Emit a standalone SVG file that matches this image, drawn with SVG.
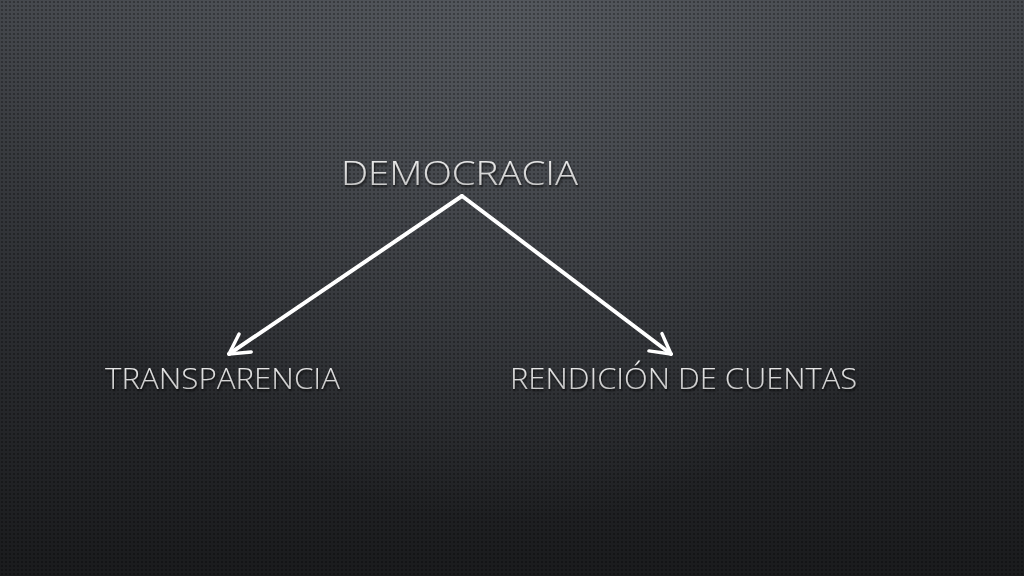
<svg xmlns="http://www.w3.org/2000/svg" width="1024" height="576" viewBox="0 0 1024 576">
<defs>
<linearGradient id="bgl" x1="0" y1="0" x2="0" y2="1">
<stop offset="0" stop-color="#45484d"/>
<stop offset="0.5" stop-color="#2d2f33"/>
<stop offset="1" stop-color="#1a1b1d"/>
</linearGradient>
<radialGradient id="bg" cx="512" cy="0" r="520" gradientUnits="userSpaceOnUse">
<stop offset="0" stop-color="#5a5e64" stop-opacity="0.7"/>
<stop offset="1" stop-color="#5a5e64" stop-opacity="0"/>
</radialGradient>
<pattern id="dots" width="4" height="4" patternUnits="userSpaceOnUse">
<circle cx="2" cy="2" r="1.1" fill="#000" fill-opacity="0.35"/>
</pattern>
<linearGradient id="txt" x1="0" y1="0" x2="0" y2="1">
<stop offset="0" stop-color="#f6f6f6"/>
<stop offset="1" stop-color="#bcbcbc"/>
</linearGradient>
<marker id="arr" viewBox="0 0 12 12" refX="10" refY="6" markerWidth="6.5" markerHeight="6.5" orient="auto" markerUnits="strokeWidth">
<path d="M1,1 L10,6 L1,11" fill="none" stroke="#ffffff" stroke-width="1.6" stroke-linecap="round" stroke-linejoin="round"/>
</marker>
<filter id="sh" x="-5%" y="-20%" width="110%" height="150%">
<feDropShadow dx="1" dy="2" stdDeviation="1.2" flood-color="#000" flood-opacity="0.7"/>
</filter>
</defs>
<style>
.lbl{font-family:"Open Sans","Liberation Sans","DejaVu Sans",sans-serif;font-weight:300;fill:url(#txt);filter:url(#sh);}
.con{fill:none;stroke:#ffffff;stroke-width:4;stroke-linecap:round;marker-end:url(#arr);}
</style>
<rect width="1024" height="576" fill="url(#bgl)"/>
<rect width="1024" height="576" fill="url(#bg)"/>
<rect width="1024" height="576" fill="url(#dots)"/>
<g id="connectors">
<path class="con" d="M462,196 L229,354"/>
<path class="con" d="M462,196 L671,354"/>
</g>
<g id="node-democracia">
<text class="lbl" x="341" y="185" font-size="33" textLength="237" lengthAdjust="spacingAndGlyphs">DEMOCRACIA</text>
</g>
<g id="node-transparencia">
<text class="lbl" x="105" y="389" font-size="30" textLength="235" lengthAdjust="spacingAndGlyphs">TRANSPARENCIA</text>
</g>
<g id="node-rendicion">
<text class="lbl" x="510" y="389" font-size="30" textLength="347" lengthAdjust="spacingAndGlyphs">RENDICIÓN DE CUENTAS</text>
</g>
</svg>
